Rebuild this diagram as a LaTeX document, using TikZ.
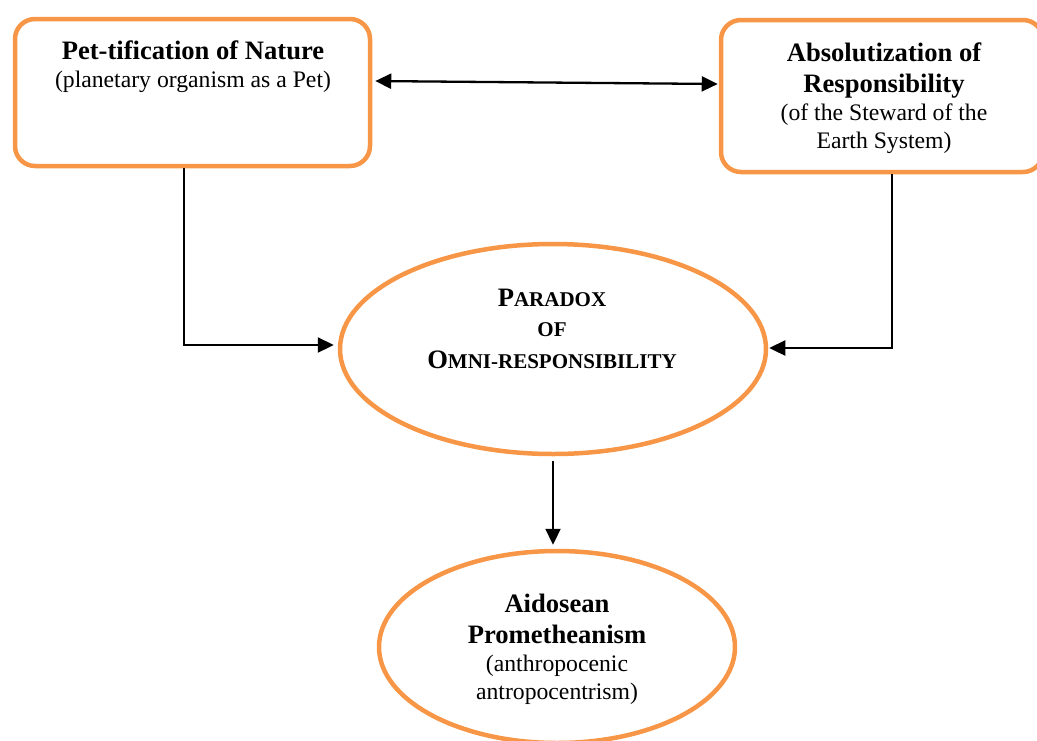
\documentclass[tikz,border=0pt]{standalone}
\usepackage{fontspec}
\setmainfont{Liberation Serif}
\usetikzlibrary{shapes.geometric,arrows.meta,calc}
\definecolor{accorange}{HTML}{F79646}
\tikzset{
  boxshape/.style={draw=accorange, line width=4.5pt, rounded corners=20pt, inner sep=0pt},
  ovalshape/.style={draw=accorange, line width=4.5pt, ellipse, inner sep=0pt},
  boldline/.style={anchor=base, inner sep=0pt, font=\fontsize{26.6}{30}\selectfont\bfseries},
  plainline/.style={anchor=base, inner sep=0pt, font=\fontsize{23.7}{28}\selectfont},
  scline/.style={anchor=base, inner sep=0pt, font=\bfseries},
  conn/.style={line width=2.3pt, -{Triangle[length=16pt,width=15pt]}},
  dconn/.style={line width=2.3pt, {Triangle[length=16pt,width=15pt]}-{Triangle[length=16pt,width=15pt]}}
}
\newcommand{\bigsc}[1]{{\fontsize{26.6}{30}\selectfont #1}}
\newcommand{\smsc}[1]{{\fontsize{21}{30}\selectfont #1}}
\begin{document}
\begin{tikzpicture}[x=1pt,y=-1pt]
\useasboundingbox (0,0) rectangle (1037,740);
% shapes
\node[boxshape, minimum width=355pt, minimum height=147pt] (b1) at (192.5,92.5) {};
\node[boxshape, minimum width=322pt, minimum height=152pt] (b2) at (882,96) {};
\node[ovalshape, minimum width=426pt, minimum height=210pt] (e1) at (553,349) {};
\node[ovalshape, minimum width=356pt, minimum height=192pt] (e2) at (557,647) {};
% texts box 1
\node[boldline] (t1a) at (193,59.3) {Pet-tification of Nature};
\node[plainline] (t1b) at (193,87.3) {(planetary organism as a Pet)};
% texts box 2
\node[boldline] (t2a) at (884,61.7) {Absolutization of};
\node[boldline] (t2b) at (884,92.7) {Responsibility};
\node[plainline] (t2c) at (884,120.7) {(of the Steward of the};
\node[plainline] (t2d) at (884,148.3) {Earth System)};
% texts ellipse 1
\node[scline] (t3a) at (552,306.7) {\bigsc{P}\smsc{ARADOX}};
\node[scline] (t3b) at (552,336.7) {\smsc{OF}};
\node[scline] (t3c) at (552,368.3) {\bigsc{O}\smsc{MNI-RESPONSIBILITY}};
% texts ellipse 2
\node[boldline] (t4a) at (557,612.7) {Aidosean};
\node[boldline] (t4b) at (557,643.3) {Prometheanism};
\node[plainline] (t4c) at (557,671.7) {(anthropocenic};
\node[plainline] (t4d) at (557,699.3) {antropocentrism)};
% connectors
\draw[dconn, shorten <=3pt, shorten >=1pt] ([yshift=11.5pt]b1.east) -- ([yshift=12pt]b2.west);
\draw[conn, shorten >=4pt] ([xshift=-8.5pt]b1.south) |- ([yshift=4pt]e1.west);
\draw[conn, shorten >=1pt] ([xshift=10pt]b2.south) |- ([yshift=1pt]e1.east);
\draw[conn, shorten <=5pt, shorten >=4pt] (e1.south) -- (e1.south |- e2.north);
\end{tikzpicture}
\end{document}
